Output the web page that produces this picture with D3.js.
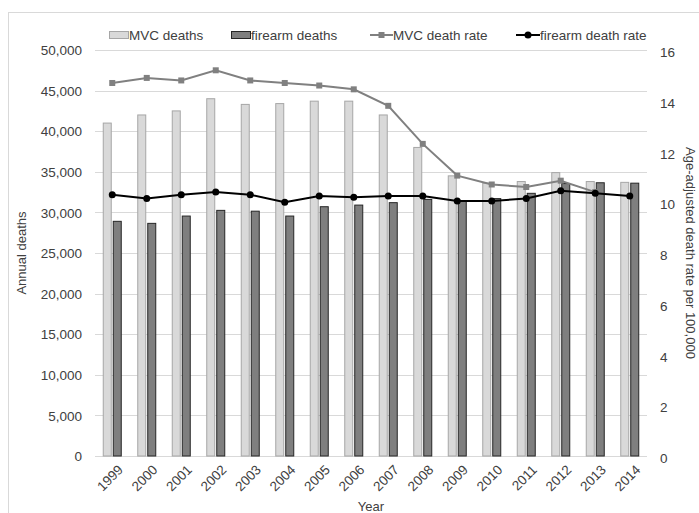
<html>
  <head>
    <title>MVC vs firearm deaths</title>
    <script type="text/javascript" src="https://cdn.jsdelivr.net/npm/d3@7"></script>
    <style type="text/css">
        body { margin: 0; background: #fff; }
        text { font-family: "Liberation Sans", Arial, sans-serif; fill: #404040; }
    </style>
  </head>
  <body>
    <div id="chart-container"></div>
    <script type="text/javascript">
      var years = ["1999","2000","2001","2002","2003","2004","2005","2006","2007","2008","2009","2010","2011","2012","2013","2014"];
      var mvcDeaths = [41000, 42000, 42500, 44000, 43300, 43400, 43700, 43700, 42000, 38000, 34500, 33600, 33800, 34900, 33800, 33700];
      var firearmDeaths = [28900, 28650, 29550, 30250, 30150, 29550, 30700, 30900, 31200, 31600, 31350, 31700, 32350, 33550, 33650, 33600];
      var mvcRate = [14.7, 14.9, 14.8, 15.2, 14.8, 14.7, 14.6, 14.45, 13.8, 12.3, 11.05, 10.7, 10.6, 10.85, 10.4, null];
      var firearmRate = [10.3, 10.15, 10.3, 10.4, 10.3, 10.0, 10.25, 10.2, 10.25, 10.25, 10.05, 10.05, 10.15, 10.45, 10.35, 10.25];
      var leftTicks = [0, 5000, 10000, 15000, 20000, 25000, 30000, 35000, 40000, 45000, 50000];
      var rightTicks = [0, 2, 4, 6, 8, 10, 12, 14, 16];

      var w = 699, h = 513;
      var plotL = 95, plotR = 647, plotT = 50, plotB = 456;
      var fs = "13.5px", titleFs = "13px";

      var svg = d3.select("#chart-container").append("svg")
          .attr("width", w)
          .attr("height", h);

      // outer frame
      svg.append("rect")
          .attr("x", 8.5).attr("y", 12.5)
          .attr("width", 720).attr("height", 540)
          .attr("fill", "none").attr("stroke", "#d9d9d9");

      var x = d3.scaleBand().domain(years).range([plotL, plotR]);
      var y = d3.scaleLinear().domain([0, 50000]).range([plotB, plotT]);
      var y2 = d3.scaleLinear().domain([0, 16]).range([plotB, plotT]);

      // gridlines
      svg.append("g").selectAll("line")
          .data(leftTicks)
          .enter().append("line")
          .attr("x1", plotL).attr("x2", plotR)
          .attr("y1", function(d) { return Math.round(y(d)) + 0.5; })
          .attr("y2", function(d) { return Math.round(y(d)) + 0.5; })
          .attr("stroke", "#d9d9d9");

      // left axis
      var yAxis = svg.append("g")
          .attr("transform", "translate(" + (plotL - 13) + ",0)")
          .call(d3.axisLeft(y).tickValues(leftTicks).tickSize(0).tickPadding(0).tickFormat(d3.format(",")));
      yAxis.select(".domain").remove();
      yAxis.selectAll("text").style("font-size", fs).attr("fill", "#404040").attr("dy", "0.35em");

      // right axis
      var y2Axis = svg.append("g")
          .attr("transform", "translate(" + (plotR + 13) + ",2)")
          .call(d3.axisRight(y2).tickValues(rightTicks).tickSize(0).tickPadding(0));
      y2Axis.select(".domain").remove();
      y2Axis.selectAll("text").style("font-size", fs).attr("fill", "#404040").attr("dy", "0.35em");

      // bars
      var bw = 8;
      svg.append("g").selectAll("rect")
          .data(years)
          .enter().append("rect")
          .attr("x", function(d) { return x(d) + x.bandwidth() / 2 - bw - 1; })
          .attr("y", function(d, i) { return y(mvcDeaths[i]); })
          .attr("width", bw)
          .attr("height", function(d, i) { return plotB - y(mvcDeaths[i]); })
          .attr("fill", "#d9d9d9").attr("stroke", "#a6a6a6").attr("stroke-width", 1);

      svg.append("g").selectAll("rect")
          .data(years)
          .enter().append("rect")
          .attr("x", function(d) { return x(d) + x.bandwidth() / 2 + 1; })
          .attr("y", function(d, i) { return y(firearmDeaths[i]); })
          .attr("width", bw)
          .attr("height", function(d, i) { return plotB - y(firearmDeaths[i]); })
          .attr("fill", "#7f7f7f").attr("stroke", "#262626").attr("stroke-width", 1);

      // lines
      var cx = function(d, i) { return x(years[i]) + x.bandwidth() / 2; };
      var line = d3.line()
          .defined(function(d) { return d != null; })
          .x(cx)
          .y(function(d) { return y2(d); });

      svg.append("path")
          .datum(mvcRate)
          .attr("d", line)
          .attr("fill", "none").attr("stroke", "#808080").attr("stroke-width", 2);
      svg.append("g").selectAll("rect")
          .data(mvcRate.map(function(d, i) { return {v: d, i: i}; }).filter(function(d) { return d.v != null; }))
          .enter().append("rect")
          .attr("x", function(d) { return cx(d.v, d.i) - 3; })
          .attr("y", function(d) { return y2(d.v) - 3; })
          .attr("width", 6).attr("height", 6)
          .attr("fill", "#808080");

      svg.append("path")
          .datum(firearmRate)
          .attr("d", line)
          .attr("fill", "none").attr("stroke", "#000").attr("stroke-width", 2);
      svg.append("g").selectAll("circle")
          .data(firearmRate)
          .enter().append("circle")
          .attr("cx", cx)
          .attr("cy", function(d) { return y2(d); })
          .attr("r", 3.5)
          .attr("fill", "#000");

      // x labels
      svg.append("g").selectAll("text")
          .data(years)
          .enter().append("text")
          .attr("text-anchor", "end")
          .attr("transform", function(d) { return "translate(" + (x(d) + x.bandwidth() / 2 + 5) + "," + (plotB + 8) + ") rotate(-45)"; })
          .attr("dy", "0.7em")
          .style("font-size", fs)
          .text(function(d) { return d; });

      // axis titles
      svg.append("text")
          .attr("x", (plotL + plotR) / 2).attr("y", 511)
          .attr("text-anchor", "middle")
          .style("font-size", titleFs)
          .text("Year");
      svg.append("text")
          .attr("transform", "translate(26," + (plotT + plotB) / 2 + ") rotate(-90)")
          .attr("text-anchor", "middle")
          .style("font-size", titleFs)
          .text("Annual deaths");
      svg.append("text")
          .attr("transform", "translate(686," + (plotT + plotB) / 2 + ") rotate(90)")
          .attr("text-anchor", "middle")
          .style("font-size", titleFs)
          .text("Age-adjusted death rate per 100,000");

      // legend
      var lg = svg.append("g").attr("transform", "translate(0,35)");
      lg.append("rect").attr("x", 109.5).attr("y", -3.5).attr("width", 19).attr("height", 7)
          .attr("fill", "#d9d9d9").attr("stroke", "#a6a6a6");
      lg.append("text").attr("x", 129).attr("dy", "0.35em").style("font-size", fs).text("MVC deaths");
      lg.append("rect").attr("x", 231.5).attr("y", -3.5).attr("width", 19).attr("height", 7)
          .attr("fill", "#7f7f7f").attr("stroke", "#262626");
      lg.append("text").attr("x", 251).attr("dy", "0.35em").style("font-size", fs).text("firearm deaths");
      lg.append("line").attr("x1", 370).attr("x2", 393).attr("y1", 0).attr("y2", 0)
          .attr("stroke", "#808080").attr("stroke-width", 2);
      lg.append("rect").attr("x", 378.5).attr("y", -3).attr("width", 6).attr("height", 6).attr("fill", "#808080");
      lg.append("text").attr("x", 393).attr("dy", "0.35em").style("font-size", fs).text("MVC death rate");
      lg.append("line").attr("x1", 516).attr("x2", 540).attr("y1", 0).attr("y2", 0)
          .attr("stroke", "#000").attr("stroke-width", 2);
      lg.append("circle").attr("cx", 528).attr("cy", 0).attr("r", 3.5).attr("fill", "#000");
      lg.append("text").attr("x", 540).attr("dy", "0.35em").style("font-size", fs).text("firearm death rate");
    </script>
  </body>
</html>
